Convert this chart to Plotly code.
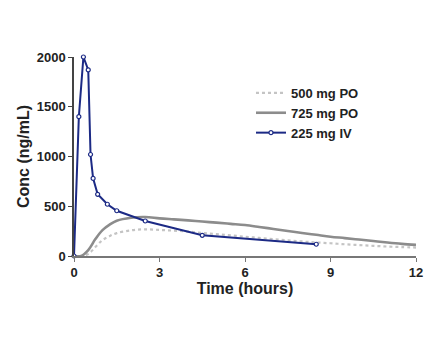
import plotly.graph_objects as go

# 225 mg IV
iv_t = [0, 0.17, 0.33, 0.5, 0.58, 0.67, 0.83, 1.17, 1.5, 2.5, 4.5, 8.5]
iv_c = [0, 1400, 2000, 1870, 1020, 780, 620, 520, 455, 352, 208, 118]

# 725 mg PO
po725_t = [0, 0.25, 0.5, 0.75, 1, 1.25, 1.5, 2, 2.5, 3, 3.5, 4, 4.5, 5, 5.5, 6, 6.5, 7,
           7.5, 8, 8.5, 9, 9.5, 10, 10.5, 11, 11.5, 12]
po725_c = [0, 0, 60, 170, 260, 315, 355, 385, 392, 378, 368, 358, 346, 335, 323, 311, 292, 272,
           252, 232, 213, 194, 180, 165, 150, 135, 122, 112]

# 500 mg PO
po500_t = [0, 0.25, 0.5, 0.75, 1, 1.25, 1.5, 2, 2.5, 3, 3.5, 4, 4.5, 5, 5.5, 6, 6.5, 7,
           7.5, 8, 8.5, 9, 9.5, 10, 10.5, 11, 11.5, 12]
po500_c = [0, 0, 20, 90, 160, 200, 230, 258, 268, 262, 255, 245, 232, 220, 207, 194, 182, 170,
           158, 146, 136, 128, 118, 110, 102, 95, 90, 85]

x_ticks = [0, 3, 6, 9, 12]
y_ticks = [0, 500, 1000, 1500, 2000]

fig = go.Figure()
fig.add_trace(go.Scatter(x=po500_t, y=po500_c, name="500 mg PO", mode="lines",
                         line=dict(color="#c4c4c4", width=2.2, dash="dot", shape="spline")))
fig.add_trace(go.Scatter(x=po725_t, y=po725_c, name="725 mg PO", mode="lines",
                         line=dict(color="#8c8c8c", width=2.6, shape="spline")))
fig.add_trace(go.Scatter(x=iv_t, y=iv_c, name="225 mg IV", mode="lines+markers",
                         line=dict(color="#1c2a85", width=2),
                         marker=dict(symbol="circle", size=4, color="white",
                                     line=dict(color="#1c2a85", width=1.2)),
                         cliponaxis=False))

fig.update_layout(
    width=444, height=354,
    margin=dict(l=74, r=28, t=57, b=98),
    paper_bgcolor="white", plot_bgcolor="white",
    font=dict(family="Liberation Sans, Arial, sans-serif", size=13, color="#222222",
              weight="bold"),
    showlegend=True,
    legend=dict(x=0.5175, y=0.895, xanchor="left", yanchor="top", bgcolor="rgba(0,0,0,0)",
                font=dict(size=13, weight="bold"), tracegroupgap=0, itemwidth=30),
    xaxis=dict(range=[0, 12], tickvals=x_ticks, ticks="outside", ticklen=4,
               showgrid=False, zeroline=False, showline=True, linecolor="#777777",
               linewidth=1.5, tickcolor="#777777",
               tickfont=dict(weight="bold"),
               title=dict(text="Time (hours)", standoff=3, font=dict(weight="bold"))),
    yaxis=dict(range=[0, 2000], tickvals=y_ticks, ticks="outside", ticklen=4,
               showgrid=False, zeroline=False, showline=True, linecolor="#444444",
               linewidth=1.5, tickcolor="#444444",
               tickfont=dict(weight="bold"),
               title=dict(text="Conc (ng/mL)", standoff=3, font=dict(weight="bold"))),
)

fig.write_html("out.html")
